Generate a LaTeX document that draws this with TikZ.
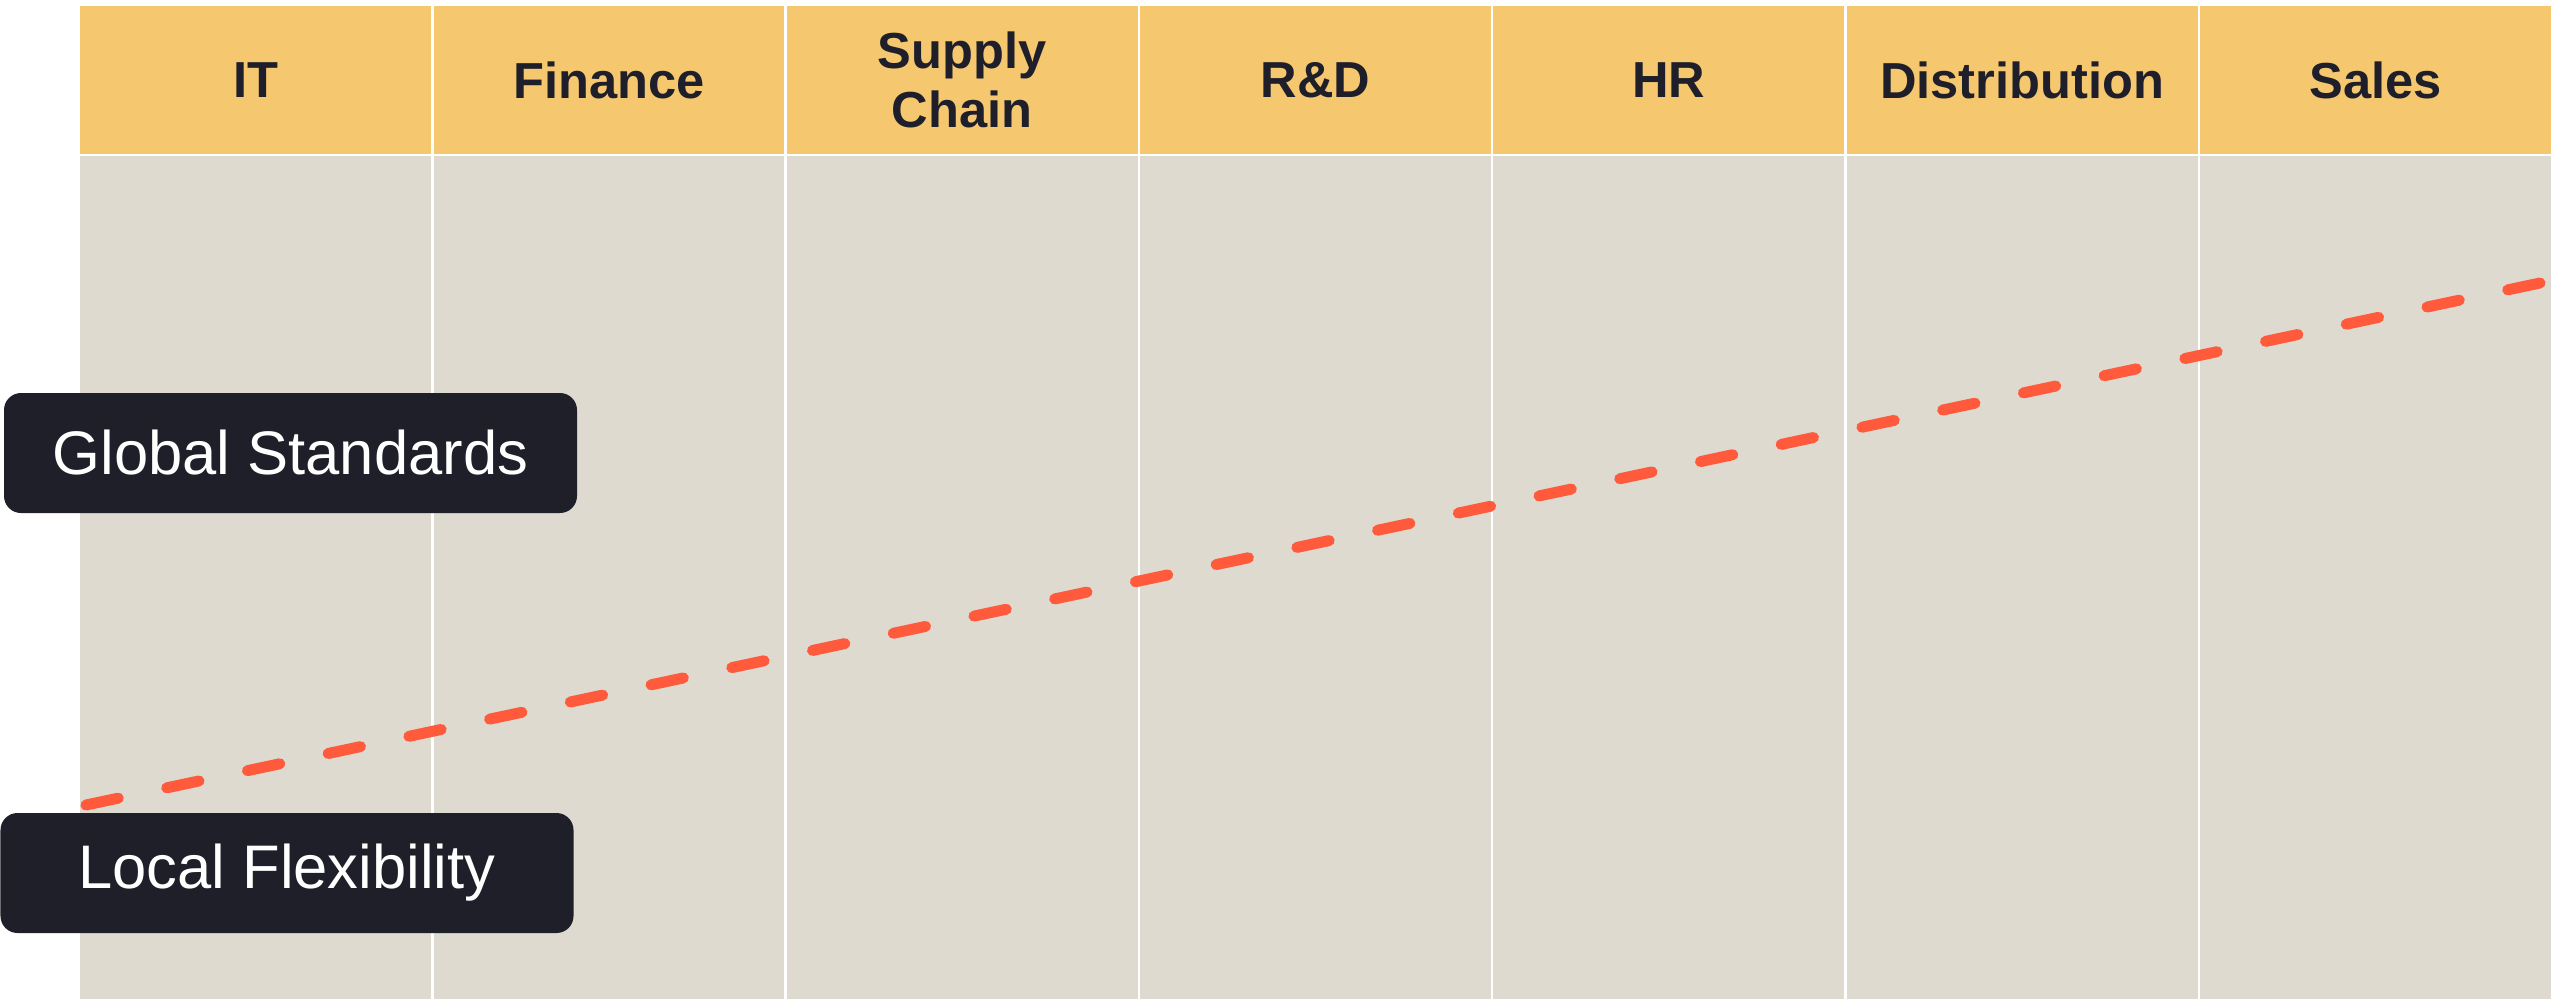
\documentclass[tikz,border=0pt]{standalone}
\usepackage{fontspec}
\setmainfont{Liberation Sans}
\usetikzlibrary{positioning}
\definecolor{headfill}{HTML}{F5C76E}
\definecolor{bodyfill}{HTML}{DEDAD0}
\definecolor{inkdark}{HTML}{1E1F2A}
\definecolor{trendred}{HTML}{FF5A3C}
\definecolor{tagfill}{HTML}{1F1F29}

\begin{document}
\begin{tikzpicture}[
    headcell/.style={rectangle,fill=headfill,draw=white,line width=0.025cm,minimum width=3.533cm,minimum height=1.5cm,inner sep=0pt,align=center,text=inkdark,font=\fontsize{14.4}{16.8}\selectfont\bfseries},
    bodycell/.style={rectangle,fill=bodyfill,draw=white,line width=0.025cm,minimum width=3.533cm,minimum height=8.45cm,inner sep=0pt},
    tag/.style={rectangle,rounded corners=0.17cm,fill=tagfill,text=white,minimum width=5.73cm,minimum height=1.2cm,inner sep=0pt,font=\fontsize{17.5}{21}\selectfont},
    trend/.style={draw=trendred,line width=0.11cm,line cap=round,dash pattern=on 0.33cm off 0.4953cm}
]
\useasboundingbox (0,0) rectangle (25.6,-10.04);
% columns
\foreach \name [count=\i] in {IT,Finance,{Supply\\Chain},R\&D,HR,Distribution,Sales} {
    \node[bodycell] (b\i) at ({0.79+(\i-0.5)*3.533},-5.775) {};
    \node[headcell] (h\i) at ({0.79+(\i-0.5)*3.533},-0.80) {\name};
}
% trend line
\coordinate (lo) at (0.86,-8.05);
\coordinate (hi) at (25.40,-2.83);
\draw[trend] (lo) -- (hi);
% labels
\node[tag] (global) at (2.905,-4.53) {Global Standards};
\node[tag] (local) at (2.87,-8.73) {Local Flexibility};
\end{tikzpicture}
\end{document}
